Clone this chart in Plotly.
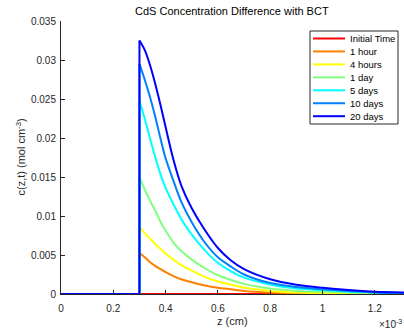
import plotly.graph_objects as go

# z positions in units of 1e-3 cm (axis shows x10^-3)
z_profile = [0.0, 0.30, 0.30, 0.32, 0.34, 0.36, 0.38, 0.40, 0.43, 0.46, 0.50, 0.55,
             0.60, 0.65, 0.70, 0.80, 0.90, 1.00, 1.10, 1.20, 1.32]
z_initial = [0.0, 1.32]

c_initial = [0.0, 0.0]
c_1hour = [0, 0, 0.0053, 0.0047, 0.0041, 0.0036, 0.0032, 0.0028, 0.0023, 0.0019, 0.0015, 0.0011,
           0.0008, 0.0006, 0.0004, 0.0002, 0.0001, 0.0000, 0.0000, 0.0000, 0.0000]
c_4hours = [0, 0, 0.0086, 0.0078, 0.0071, 0.0064, 0.0058, 0.0052, 0.0044, 0.0037, 0.0030, 0.0022,
            0.0016, 0.0012, 0.0008, 0.0004, 0.0002, 0.0001, 0.0000, 0.0000, 0.0000]
c_1day = [0, 0, 0.0150, 0.0134, 0.0120, 0.0107, 0.0093, 0.0081, 0.0066, 0.0055, 0.0044, 0.0033,
          0.0024, 0.0018, 0.0013, 0.0007, 0.0004, 0.0003, 0.0002, 0.0001, 0.0000]
c_5days = [0, 0, 0.0248, 0.0225, 0.0200, 0.0176, 0.0154, 0.0136, 0.0115, 0.0096, 0.0076, 0.0056,
           0.0040, 0.0029, 0.0021, 0.0012, 0.0007, 0.0005, 0.0003, 0.0002, 0.0001]
c_10days = [0, 0, 0.0295, 0.0275, 0.0253, 0.0228, 0.0200, 0.0174, 0.0145, 0.0118, 0.0092, 0.0066,
            0.0047, 0.0035, 0.0025, 0.0014, 0.0009, 0.0006, 0.0004, 0.0002, 0.0001]
c_20days = [0, 0, 0.0325, 0.0313, 0.0294, 0.0270, 0.0243, 0.0214, 0.0172, 0.0139, 0.0110, 0.0082,
            0.0059, 0.0043, 0.0032, 0.0019, 0.0012, 0.0008, 0.0005, 0.0003, 0.0002]

series_names = ["Initial Time", "1 hour", "4 hours", "1 day", "5 days", "10 days", "20 days"]
series_colors = ["#ff0000", "#ff8000", "#ffff00", "#80ff80", "#00ffff", "#0080ff", "#0000ff"]
series_x = [z_initial] + [z_profile] * 6
series_y = [c_initial, c_1hour, c_4hours, c_1day, c_5days, c_10days, c_20days]

x_tickvals = [0, 0.2, 0.4, 0.6, 0.8, 1.0, 1.2]
x_ticktext = ["0", "0.2", "0.4", "0.6", "0.8", "1", "1.2"]
y_tickvals = [0, 0.005, 0.01, 0.015, 0.02, 0.025, 0.03, 0.035]
y_ticktext = ["0", "0.005", "0.01", "0.015", "0.02", "0.025", "0.03", "0.035"]

W, H = 404, 334
ML, MR, MT, MB = 61, 0, 21, 40
PW, PH = W - ML - MR, H - MT - MB


def px(xp):
    return (xp - ML) / PW


def py(yp):
    return (H - MB - yp) / PH


FONT = "Liberation Sans, Arial, Helvetica, sans-serif"
DARK = "#262626"

fig = go.Figure()
for name, color, xs, ys in zip(series_names, series_colors, series_x, series_y):
    if len(xs) <= 2:
        fig.add_trace(go.Scatter(x=xs, y=ys, mode="lines", name=name,
                                 line=dict(color=color, width=2), showlegend=False))
        continue
    # step at the interface (straight), then the smooth decaying profile
    fig.add_trace(go.Scatter(x=xs[:3], y=ys[:3], mode="lines", name=name,
                             line=dict(color=color, width=2), showlegend=False))
    fig.add_trace(go.Scatter(x=xs[2:], y=ys[2:], mode="lines", name=name,
                             line=dict(color=color, width=2, shape="spline", smoothing=0.8),
                             showlegend=False))

# custom legend (layout only)
shapes = [dict(type="rect", xref="paper", yref="paper",
               x0=px(310), x1=px(398), y0=py(124), y1=py(31),
               line=dict(color=DARK, width=1), fillcolor="white", layer="above")]
annotations = []
for i, (name, color) in enumerate(zip(series_names, series_colors)):
    yc = 38.5 + i * 12.95
    shapes.append(dict(type="line", xref="paper", yref="paper",
                       x0=px(313), x1=px(345), y0=py(yc), y1=py(yc),
                       line=dict(color=color, width=2), layer="above"))
    annotations.append(dict(text=name, xref="paper", yref="paper", x=px(347.5), y=py(yc),
                            xanchor="left", yanchor="middle", showarrow=False,
                            font=dict(family=FONT, size=9.5, color="black")))

annotations += [
    dict(text="CdS Concentration Difference with BCT", xref="paper", yref="paper",
         x=px(232), y=py(11), xanchor="center", yanchor="middle", showarrow=False,
         font=dict(family=FONT, size=11, color="black")),
    dict(text="c(z,t) (mol cm<sup>-3</sup>)", xref="paper", yref="paper",
         x=px(20), y=py(157.5), xanchor="center", yanchor="middle", showarrow=False,
         textangle=-90, font=dict(family=FONT, size=11, color=DARK)),
    dict(text="z (cm)", xref="paper", yref="paper",
         x=px(232), y=py(321), xanchor="center", yanchor="middle", showarrow=False,
         font=dict(family=FONT, size=11, color=DARK)),
    dict(text="×10<sup>-3</sup>", xref="paper", yref="paper",
         x=px(377), y=py(324), xanchor="left", yanchor="middle", showarrow=False,
         font=dict(family=FONT, size=10, color=DARK)),
]

fig.update_layout(
    width=W, height=H,
    margin=dict(l=ML, r=MR, t=MT, b=MB, pad=0),
    paper_bgcolor="white", plot_bgcolor="white",
    font=dict(family=FONT, size=10, color=DARK),
    shapes=shapes, annotations=annotations,
    showlegend=False,
)
fig.update_xaxes(range=[0, PW / 261.5], tickvals=x_tickvals, ticktext=x_ticktext,
                 showline=True, linecolor=DARK, linewidth=1, ticks="inside", ticklen=4,
                 tickcolor=DARK, showgrid=False, zeroline=False, ticklabelstandoff=5,
                 tickfont=dict(family=FONT, size=10, color=DARK))
fig.update_yaxes(range=[0, 0.035], tickvals=y_tickvals, ticktext=y_ticktext,
                 showline=True, linecolor=DARK, linewidth=1, ticks="inside", ticklen=4,
                 tickcolor=DARK, showgrid=False, zeroline=False, ticklabelstandoff=2,
                 tickfont=dict(family=FONT, size=10, color=DARK))

fig.write_html("out.html")
